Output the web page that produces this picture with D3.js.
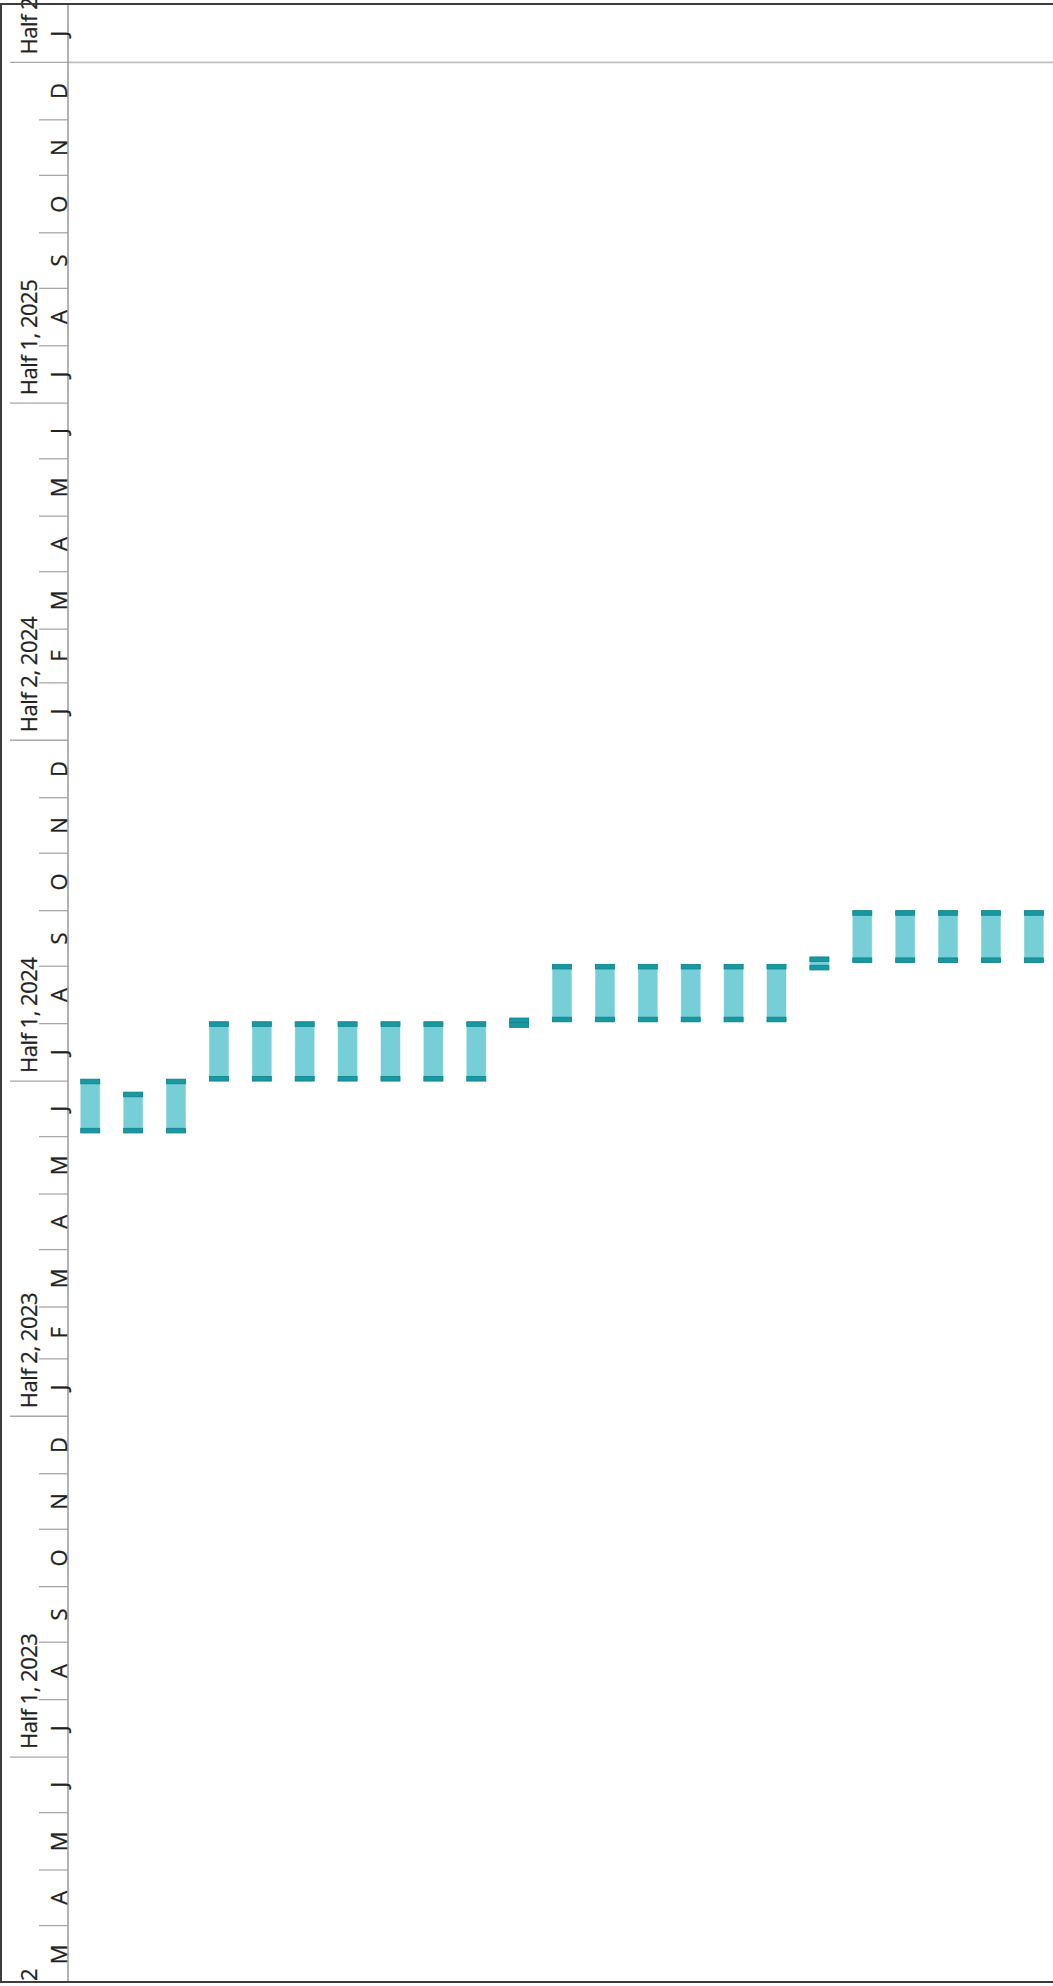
<!DOCTYPE html>
<html>
<head>
<meta charset="utf-8">
<script src="https://cdn.jsdelivr.net/npm/d3@7/dist/d3.min.js"></script>
<style>
  html, body { margin: 0; padding: 0; background: #ffffff; }
  svg { display: block; }
  text { font-family: "Segoe UI", "Open Sans", sans-serif; fill: #222222; stroke: #222222; stroke-width: 0.25px; }
</style>
</head>
<body>
<svg id="chart" width="1053" height="1986"></svg>
<script>
// ---------- data ----------
const categories = ["Item 1","Item 2","Item 3","Item 4","Item 5","Item 6","Item 7","Item 8",
  "Item 9","Item 10","Item 11","Item 12","Item 13","Item 14","Item 15","Item 16",
  "Item 17","Item 18","Item 19","Item 20","Item 21","Item 22","Item 23"];
const startDates = ["2023-06-03","2023-06-03","2023-06-03",
  "2023-07-01","2023-07-01","2023-07-01","2023-07-01","2023-07-01","2023-07-01","2023-07-01",
  "2023-07-30",
  "2023-08-02","2023-08-02","2023-08-02","2023-08-02","2023-08-02","2023-08-02",
  "2023-08-30",
  "2023-09-03","2023-09-03","2023-09-03","2023-09-03","2023-09-03"];
const endDates = ["2023-07-02","2023-06-25","2023-07-02",
  "2023-08-02","2023-08-02","2023-08-02","2023-08-02","2023-08-02","2023-08-02","2023-08-02",
  "2023-08-04",
  "2023-09-02","2023-09-02","2023-09-02","2023-09-02","2023-09-02","2023-09-02",
  "2023-09-06",
  "2023-10-01","2023-10-01","2023-10-01","2023-10-01","2023-10-01"];
const monthLetters = ["J","F","M","A","M","J","J","A","S","O","N","D"];
const halfDates = ["2022-01-01","2022-07-01","2023-01-01","2023-07-01","2024-01-01","2024-07-01","2025-01-01"];
const halfLabels = ["Half 2, 2022","Half 1, 2023","Half 2, 2023","Half 1, 2024","Half 2, 2024","Half 1, 2025","Half 2, 2025"];
const domainDates = ["2022-03-01","2025-02-01"];

// ---------- setup ----------
const parse = d3.timeParse("%Y-%m-%d");
const svg = d3.select("#chart");
const W = 1053, H = 1986;
const frame = {x: 1, y: 4, w: 1062, h: 1978};
const axisX = 68;

const y = d3.scaleTime()
  .domain(domainDates.map(parse))
  .range([1983, 5]);

const x = d3.scaleBand()
  .domain(categories)
  .range([68.8, 1055.3])
  .paddingInner(0.557)
  .paddingOuter(0.2785);

const defs = svg.append("defs");
defs.append("clipPath").attr("id", "clipFrame")
  .append("rect").attr("x", frame.x + 1).attr("y", frame.y + 1)
  .attr("width", frame.w).attr("height", frame.h - 2);
defs.append("clipPath").attr("id", "clipLabels")
  .append("rect").attr("x", 0).attr("y", 0)
  .attr("width", W).attr("height", frame.y + frame.h);

const g = svg.append("g").attr("clip-path", "url(#clipFrame)");
const gl = svg.append("g").attr("clip-path", "url(#clipLabels)");

// ---------- axis ----------
const [d0, d1] = y.domain();
const monthStarts = d3.timeMonth.range(d3.timeMonth.floor(d0), d1);

// month ticks (short)
g.append("g").selectAll("line.mt")
  .data(monthStarts.filter(d => d > d0 && d.getMonth() !== 0 && d.getMonth() !== 6))
  .join("line")
  .attr("x1", 39).attr("x2", axisX)
  .attr("y1", d => y(d)).attr("y2", d => y(d))
  .attr("stroke", "#a8a8a8").attr("stroke-width", 1.3);

// half ticks (long)
const halfD = halfDates.map(parse);
g.append("g").selectAll("line.ht")
  .data(halfD.filter(d => d > d0 && d < d1))
  .join("line")
  .attr("x1", 10).attr("x2", axisX)
  .attr("y1", d => y(d)).attr("y2", d => y(d))
  .attr("stroke", "#a8a8a8").attr("stroke-width", 1.3);

// gridline at last half boundary
const lastHalf = halfD[halfD.length - 1];
g.append("line")
  .attr("x1", axisX).attr("x2", W + 10)
  .attr("y1", y(lastHalf)).attr("y2", y(lastHalf))
  .attr("stroke", "#bdbdbd").attr("stroke-width", 1.6);

// axis line
g.append("line")
  .attr("x1", axisX).attr("x2", axisX)
  .attr("y1", 0).attr("y2", H)
  .attr("stroke", "#9a9a9a").attr("stroke-width", 1.5);

// month labels
gl.append("g").selectAll("text.ml")
  .data(monthStarts)
  .join("text")
  .attr("transform", d => {
    const a = d < d0 ? d0 : d;
    const b = d3.timeMonth.offset(d, 1) > d1 ? d1 : d3.timeMonth.offset(d, 1);
    const cy = (y(a) + y(b)) / 2;
    return `translate(66.5,${cy}) rotate(-90)`;
  })
  .attr("text-anchor", "middle")
  .attr("font-size", 22)
  .text(d => monthLetters[d.getMonth()]);

// half labels
gl.append("g").selectAll("text.hl")
  .data(halfD)
  .join("text")
  .attr("transform", d => `translate(37,${y(d) - 8}) rotate(-90)`)
  .attr("text-anchor", "start")
  .attr("font-size", 22)
  .attr("letter-spacing", "-0.5px")
  .text((d, i) => halfLabels[i]);

// ---------- bars ----------
const bars = categories.map((c, i) => ({c, s: parse(startDates[i]), e: parse(endDates[i])}));
const capH = 4.6;
const bw = x.bandwidth();

const bg = g.append("g");
bg.selectAll("rect.fill")
  .data(bars)
  .join("rect")
  .attr("x", d => x(d.c))
  .attr("width", bw)
  .attr("y", d => y(d.e))
  .attr("height", d => y(d.s) - y(d.e))
  .attr("fill", "#76ced6")
  .attr("stroke", "rgba(118,206,214,0.45)")
  .attr("stroke-width", 1);

bg.selectAll("rect.capTop")
  .data(bars)
  .join("rect")
  .attr("x", d => x(d.c))
  .attr("width", bw)
  .attr("y", d => y(d.e))
  .attr("height", capH)
  .attr("fill", "#1898a1")
  .attr("stroke", "#11838c")
  .attr("stroke-width", 0.8);

bg.selectAll("rect.capBot")
  .data(bars)
  .join("rect")
  .attr("x", d => x(d.c))
  .attr("width", bw)
  .attr("y", d => y(d.s) - capH)
  .attr("height", capH)
  .attr("fill", "#1898a1")
  .attr("stroke", "#11838c")
  .attr("stroke-width", 0.8);

// ---------- frame ----------
svg.append("rect")
  .attr("x", frame.x).attr("y", frame.y)
  .attr("width", frame.w).attr("height", frame.h)
  .attr("fill", "none")
  .attr("stroke", "#3c3c3c")
  .attr("stroke-width", 2);
</script>
</body>
</html>
